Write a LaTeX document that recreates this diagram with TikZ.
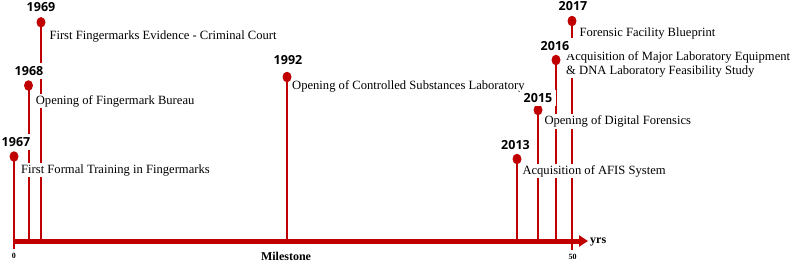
\documentclass[tikz,border=0pt]{standalone}
\usepackage{fontspec}
\setmainfont{Liberation Serif}
\newfontfamily\yearfont{Open Sans}
\usetikzlibrary{arrows.meta,shapes.geometric}
\definecolor{tred}{RGB}{192,0,0}
\begin{document}
\begin{tikzpicture}[x=1pt,y=-1pt,
  dotnode/.style={ellipse,fill=tred,draw=none,minimum width=9pt,minimum height=10.5pt,inner sep=0pt},
  yearlbl/.style={font=\yearfont\bfseries\fontsize{12.5}{14}\selectfont,fill=white,inner xsep=4pt,inner ysep=3.5pt},
  desc/.style={font=\fontsize{12.6}{13.3}\selectfont,fill=white,inner xsep=1pt,inner ysep=1.5pt,anchor=base west,align=left},
  stem/.style={draw=tred,line width=2pt},
  tick/.style={draw=tred,line width=2pt},
  axislbl/.style={font=\bfseries\fontsize{12}{14}\selectfont,inner sep=0pt},
  ticklbl/.style={font=\bfseries\fontsize{8}{9}\selectfont,inner sep=0pt},
]
\useasboundingbox (0,0) rectangle (790,263);
% axis reference coordinates
\coordinate (a0) at (13,241);
\coordinate (a1) at (588,241);
% dots
\node[dotnode] (d67) at (14,156.5) {};
\node[dotnode] (d68) at (28.5,85.5) {};
\node[dotnode] (d69) at (41,22.3) {};
\node[dotnode] (d92) at (287,77) {};
\node[dotnode] (d13) at (517,159) {};
\node[dotnode] (d15) at (538,110) {};
\node[dotnode] (d16) at (556,60) {};
\node[dotnode] (d17) at (572,21) {};
% stems
\foreach \d in {d67,d68,d69,d92,d13,d15,d16,d17}
  \draw[stem] (\d.center) -- (\d.center |- a0);
% axis
\draw[tred,line width=5pt,-{Triangle[length=9pt,width=11pt]}] (a0) -- (a1);
\coordinate (t0) at (14,241);
\coordinate (t50) at (572,241);
\draw[tick] (t0) -- ++(0,7.5);
\draw[tick] (t50) -- ++(0,9);
\node[ticklbl] (l0) at (14,256) {0};
\node[ticklbl] (l50) at (572.5,257) {50};
\node[axislbl,anchor=base] (ms) at (286,260) {Milestone};
\node[axislbl,anchor=base west] (yrs) at (590,243) {yrs};
% descriptions
\node[desc] (t67) at (20,173) {First Formal Training in Fingermarks};
\node[desc] (t68) at (34.7,104) {Opening of Fingermark Bureau};
\node[desc] (t69) at (48.3,39.3) {First Fingermarks Evidence - Criminal Court};
\node[desc] (t92) at (291,89) {Opening of Controlled Substances Laboratory};
\node[desc] (t13) at (521.3,174) {Acquisition of AFIS System};
\node[desc] (t15) at (543.3,124.3) {Opening of Digital Forensics};
\node[desc] (t16) at (565,74) {Acquisition of Major Laboratory Equipment\\\& DNA Laboratory Feasibility Study};
\node[desc] (t17) at (578.3,36.7) {Forensic Facility Blueprint};
% year labels
\node[yearlbl] (y67) at (16,142) {1967};
\node[yearlbl] (y68) at (29,71) {1968};
\node[yearlbl] (y69) at (41,7.5) {1969};
\node[yearlbl] (y92) at (288,60) {1992};
\node[yearlbl] (y13) at (515.5,145) {2013};
\node[yearlbl] (y15) at (538,98) {2015};
\node[yearlbl] (y16) at (555,46) {2016};
\node[yearlbl] (y17) at (573,6) {2017};
\end{tikzpicture}
\end{document}
